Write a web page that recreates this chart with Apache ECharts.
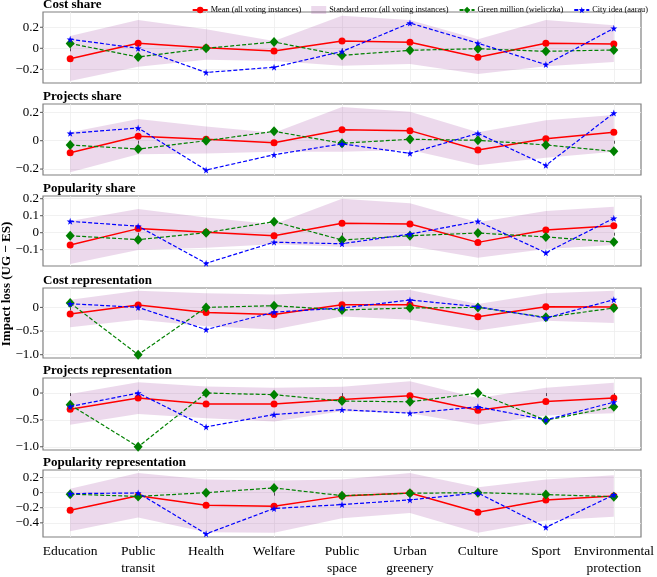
<!DOCTYPE html>
<html>
<head>
<meta charset="utf-8">
<script src="https://cdn.jsdelivr.net/npm/echarts@6/dist/echarts.min.js"></script>
<style>
  html, body { margin: 0; padding: 0; background: #fff; }
  #main { width: 657px; height: 577px; }
</style>
</head>
<body>
<div id="main"></div>
<script>
// categories on the shared x axis
const categories = ['Education', 'Public\ntransit', 'Health', 'Welfare', 'Public\nspace',
  'Urban\ngreenery', 'Culture', 'Sport', 'Environmental\nprotection']

const seriesNames = ['Mean (all voting instances)', 'Standard error (all voting instances)',
  'Green million (wieliczka)', 'City idea (aarau)']

// Cost share
const costShareMean = [-0.10, 0.048, 0.006, -0.026, 0.07, 0.057, -0.086, 0.048, 0.041]
const costShareUpper = [0.117, 0.27, 0.18, 0.07, 0.31, 0.27, 0.086, 0.27, 0.22]
const costShareLower = [-0.31, -0.175, -0.11, -0.12, -0.166, -0.15, -0.245, -0.17, -0.13]
const costShareGreen = [0.046, -0.083, 0.0, 0.06, -0.067, -0.019, -0.004, -0.029, -0.016]
const costShareCity = [0.086, 0.0, -0.23, -0.18, -0.03, 0.24, 0.048, -0.155, 0.19]

// Projects share
const projShareMean = [-0.085, 0.031, 0.01, -0.014, 0.078, 0.071, -0.066, 0.014, 0.059]
const projShareUpper = [0.059, 0.153, 0.1, 0.056, 0.238, 0.205, 0.059, 0.144, 0.181]
const projShareLower = [-0.223, -0.096, -0.09, -0.078, -0.078, -0.066, -0.174, -0.12, -0.078]
const projShareGreen = [-0.03, -0.059, 0.0, 0.066, -0.018, 0.01, 0.003, -0.03, -0.075]
const projShareCity = [0.052, 0.09, -0.207, -0.099, -0.022, -0.089, 0.052, -0.174, 0.195]

// Popularity share
const popShareMean = [-0.072, 0.024, 0.003, -0.018, 0.055, 0.051, -0.057, 0.016, 0.041]
const popShareUpper = [0.069, 0.139, 0.09, 0.05, 0.2, 0.173, 0.061, 0.128, 0.153]
const popShareLower = [-0.184, -0.102, -0.088, -0.068, -0.082, -0.078, -0.147, -0.096, -0.072]
const popShareGreen = [-0.018, -0.041, 0.0, 0.065, -0.043, -0.018, -0.002, -0.025, -0.055]
const popShareCity = [0.067, 0.038, -0.18, -0.056, -0.065, -0.008, 0.067, -0.118, 0.085]

// Cost representation
const costReprMean = [-0.14, 0.05, -0.106, -0.148, 0.057, 0.057, -0.197, 0.015, 0.008]
const costReprUpper = [0.163, 0.353, 0.3, 0.27, 0.33, 0.37, 0.07, 0.3, 0.35]
const costReprLower = [-0.42, -0.26, -0.4, -0.47, -0.19, -0.26, -0.49, -0.28, -0.33]
const costReprGreen = [0.093, -1.0, 0.0, 0.036, -0.055, -0.013, 0.0, -0.21, -0.013]
const costReprCity = [0.078, 0.0, -0.47, -0.1, -0.013, 0.156, 0.015, -0.225, 0.163]

// Projects representation
const projReprMean = [-0.3, -0.094, -0.206, -0.206, -0.12, -0.05, -0.32, -0.157, -0.094]
const projReprUpper = [-0.02, 0.2, 0.12, 0.1, 0.118, 0.22, -0.094, 0.1, 0.19]
const projReprLower = [-0.59, -0.39, -0.47, -0.53, -0.34, -0.375, -0.59, -0.42, -0.375]
const projReprGreen = [-0.22, -1.0, 0.0, -0.03, -0.15, -0.163, 0.0, -0.506, -0.256]
const projReprCity = [-0.25, 0.0, -0.63, -0.4, -0.31, -0.375, -0.256, -0.5, -0.17]

// Popularity representation
const popReprMean = [-0.233, -0.04, -0.166, -0.18, -0.046, -0.004, -0.26, -0.096, -0.046]
const popReprUpper = [0.05, 0.26, 0.175, 0.16, 0.175, 0.26, 0.07, 0.175, 0.23]
const popReprLower = [-0.51, -0.33, -0.525, -0.53, -0.34, -0.27, -0.53, -0.37, -0.32]
const popReprGreen = [-0.02, -0.05, 0.0, 0.063, -0.04, -0.008, 0.0, -0.025, -0.054]
const popReprCity = [-0.013, -0.004, -0.546, -0.21, -0.158, -0.096, -0.004, -0.46, -0.03]

// y tick labels per panel
const costShareTicks = [-0.2, 0, 0.2]
const projShareTicks = [-0.2, 0, 0.2]
const popShareTicks = [-0.1, 0, 0.1, 0.2]
const costReprTicks = [-1, -0.5, 0]
const projReprTicks = [-1, -0.5, 0]
const popReprTicks = [-0.4, -0.2, 0, 0.2]

const panels = [
  { title: 'Cost share', mean: costShareMean, upper: costShareUpper, lower: costShareLower, green: costShareGreen, city: costShareCity, ticks: costShareTicks, min: -0.33, max: 0.345, top: 12, height: 71 },
  { title: 'Projects share', mean: projShareMean, upper: projShareUpper, lower: projShareLower, green: projShareGreen, city: projShareCity, ticks: projShareTicks, min: -0.242, max: 0.259, top: 104, height: 71 },
  { title: 'Popularity share', mean: popShareMean, upper: popShareUpper, lower: popShareLower, green: popShareGreen, city: popShareCity, ticks: popShareTicks, min: -0.196, max: 0.216, top: 196, height: 70 },
  { title: 'Cost representation', mean: costReprMean, upper: costReprUpper, lower: costReprLower, green: costReprGreen, city: costReprCity, ticks: costReprTicks, min: -1.07, max: 0.41, top: 288, height: 70 },
  { title: 'Projects representation', mean: projReprMean, upper: projReprUpper, lower: projReprLower, green: projReprGreen, city: projReprCity, ticks: projReprTicks, min: -1.06, max: 0.28, top: 378, height: 72 },
  { title: 'Popularity representation', mean: popReprMean, upper: popReprUpper, lower: popReprLower, green: popReprGreen, city: popReprCity, ticks: popReprTicks, min: -0.5875, max: 0.3, top: 470, height: 71 }
]

const FONT = 'Liberation Serif'
const X_MIN = -0.4
const X_MAX = 8.4
const bandColor = 'rgba(128, 0, 128, 0.15)'
const starPath = 'path://M50,0 L61,35 L98,35 L68,57 L79,91 L50,70 L21,91 L32,57 L2,35 L39,35 Z'
const catIdx = categories.map((c, i) => i)

function pairs(arr) {
  return arr.map((v, i) => [i, v])
}

function tickFmt(v) {
  if (Math.abs(v) < 1e-9) return '0'
  return (v < 0 ? '\u2212' : '') + Math.abs(v).toFixed(1)
}

// draws the standard-error band as one polygon
function bandRenderer(lower, upper) {
  return function(params, api) {
    if (params.dataIndex !== 0) return
    const pts = []
    for (let i = 0; i < upper.length; i++) pts.push(api.coord([i, upper[i]]))
    for (let i = lower.length - 1; i >= 0; i--) pts.push(api.coord([i, lower[i]]))
    return { type: 'polygon', shape: { points: pts }, style: { fill: bandColor } }
  }
}

// y tick mark + label, placed through the axis scale at the left edge of the grid
function yTickRenderer(params, api) {
  const pt = api.coord([api.value(0), api.value(1)])
  return {
    type: 'group',
    children: [
      { type: 'line', shape: { x1: pt[0] - 3, y1: pt[1], x2: pt[0], y2: pt[1] }, style: { stroke: '#555', lineWidth: 1 } },
      {
        type: 'text', x: pt[0] - 4, y: pt[1],
        style: { text: tickFmt(api.value(1)), font: '13px "Liberation Serif"', fill: '#000', align: 'right', verticalAlign: 'middle' }
      }
    ]
  }
}

const grid = []
const xAxis = []
const yAxis = []
const series = []
const title = []

panels.forEach(function(p, k) {
  const last = k === panels.length - 1
  grid.push({
    left: 43, right: 16, top: p.top, height: p.height,
    show: true, borderColor: '#808080', borderWidth: 1.2, backgroundColor: 'transparent'
  })
  title.push({
    text: p.title, left: 43, top: p.top - 14, padding: 0,
    textStyle: { fontFamily: FONT, fontSize: 13, fontWeight: 'bold', color: '#000' }
  })
  xAxis.push({
    type: 'value', gridIndex: k, min: X_MIN, max: X_MAX,
    axisLine: { show: false },
    axisTick: { show: true, inside: false, length: 3, customValues: catIdx, lineStyle: { color: '#555' } },
    splitLine: { show: true, lineStyle: { color: '#eeeeee', width: 0.8 } },
    axisLabel: {
      show: last, customValues: catIdx, margin: 6,
      fontFamily: FONT, fontSize: 13.5, color: '#000', lineHeight: 17,
      formatter: function(v) { return categories[Math.round(v)] }
    }
  })
  yAxis.push({
    type: 'value', gridIndex: k, min: p.min, max: p.max,
    axisLine: { show: false },
    axisTick: { show: false, customValues: p.ticks },
    splitLine: { show: true, lineStyle: { color: '#eeeeee', width: 0.8 } },
    axisLabel: { show: false, customValues: p.ticks }
  })
  series.push({
    name: 'yticks' + k, type: 'custom', xAxisIndex: k, yAxisIndex: k,
    data: p.ticks.map(t => [X_MIN, t]),
    encode: { x: 0, y: 1 },
    renderItem: yTickRenderer,
    clip: false, silent: true, z: 5
  })
  series.push({
    name: seriesNames[1], type: 'custom', xAxisIndex: k, yAxisIndex: k,
    itemStyle: { color: bandColor },
    data: catIdx.map(i => [i, p.lower[i], p.upper[i]]),
    encode: { x: 0, y: [1, 2] },
    renderItem: bandRenderer(p.lower, p.upper),
    silent: true, z: 1
  })
  series.push({
    name: seriesNames[0], type: 'line', xAxisIndex: k, yAxisIndex: k,
    data: pairs(p.mean), color: '#ff0000',
    symbol: 'circle', symbolSize: 7, showAllSymbol: true,
    lineStyle: { width: 1.5, color: '#ff0000' },
    itemStyle: { color: '#ff0000' }, z: 2
  })
  series.push({
    name: seriesNames[2], type: 'line', xAxisIndex: k, yAxisIndex: k,
    data: pairs(p.green), color: '#008000',
    symbol: 'diamond', symbolSize: [9, 10],
    lineStyle: { width: 1.2, type: [4, 2], color: '#008000' },
    itemStyle: { color: '#008000' }, z: 3
  })
  series.push({
    name: seriesNames[3], type: 'line', xAxisIndex: k, yAxisIndex: k,
    data: pairs(p.city), color: '#0000ff',
    symbol: starPath, symbolSize: 7,
    lineStyle: { width: 1.2, type: [4, 2], color: '#0000ff' },
    itemStyle: { color: '#0000ff' }, z: 4
  })
})

const option = {
  animation: false,
  backgroundColor: '#fff',
  title: title,
  legend: {
    right: 4, top: 1, itemGap: 10, itemWidth: 15, itemHeight: 8,
    textStyle: { fontFamily: FONT, fontSize: 8.3, color: '#000', padding: [0, 0, 0, -2] },
    data: [
      { name: seriesNames[0] },
      { name: seriesNames[1], icon: 'rect' },
      { name: seriesNames[2] },
      { name: seriesNames[3] }
    ]
  },
  grid: grid,
  xAxis: xAxis,
  yAxis: yAxis,
  series: series,
  graphic: [{
    type: 'text', x: 7, y: 284, rotation: Math.PI / 2, z: 0,
    style: {
      text: 'Impact loss (UG \u2212 ES)', font: 'bold 13px "Liberation Serif"',
      fill: '#000', align: 'center', verticalAlign: 'middle'
    }
  }]
}

const myChart = echarts.init(document.getElementById('main'))
myChart.setOption(option)
</script>
</body>
</html>
